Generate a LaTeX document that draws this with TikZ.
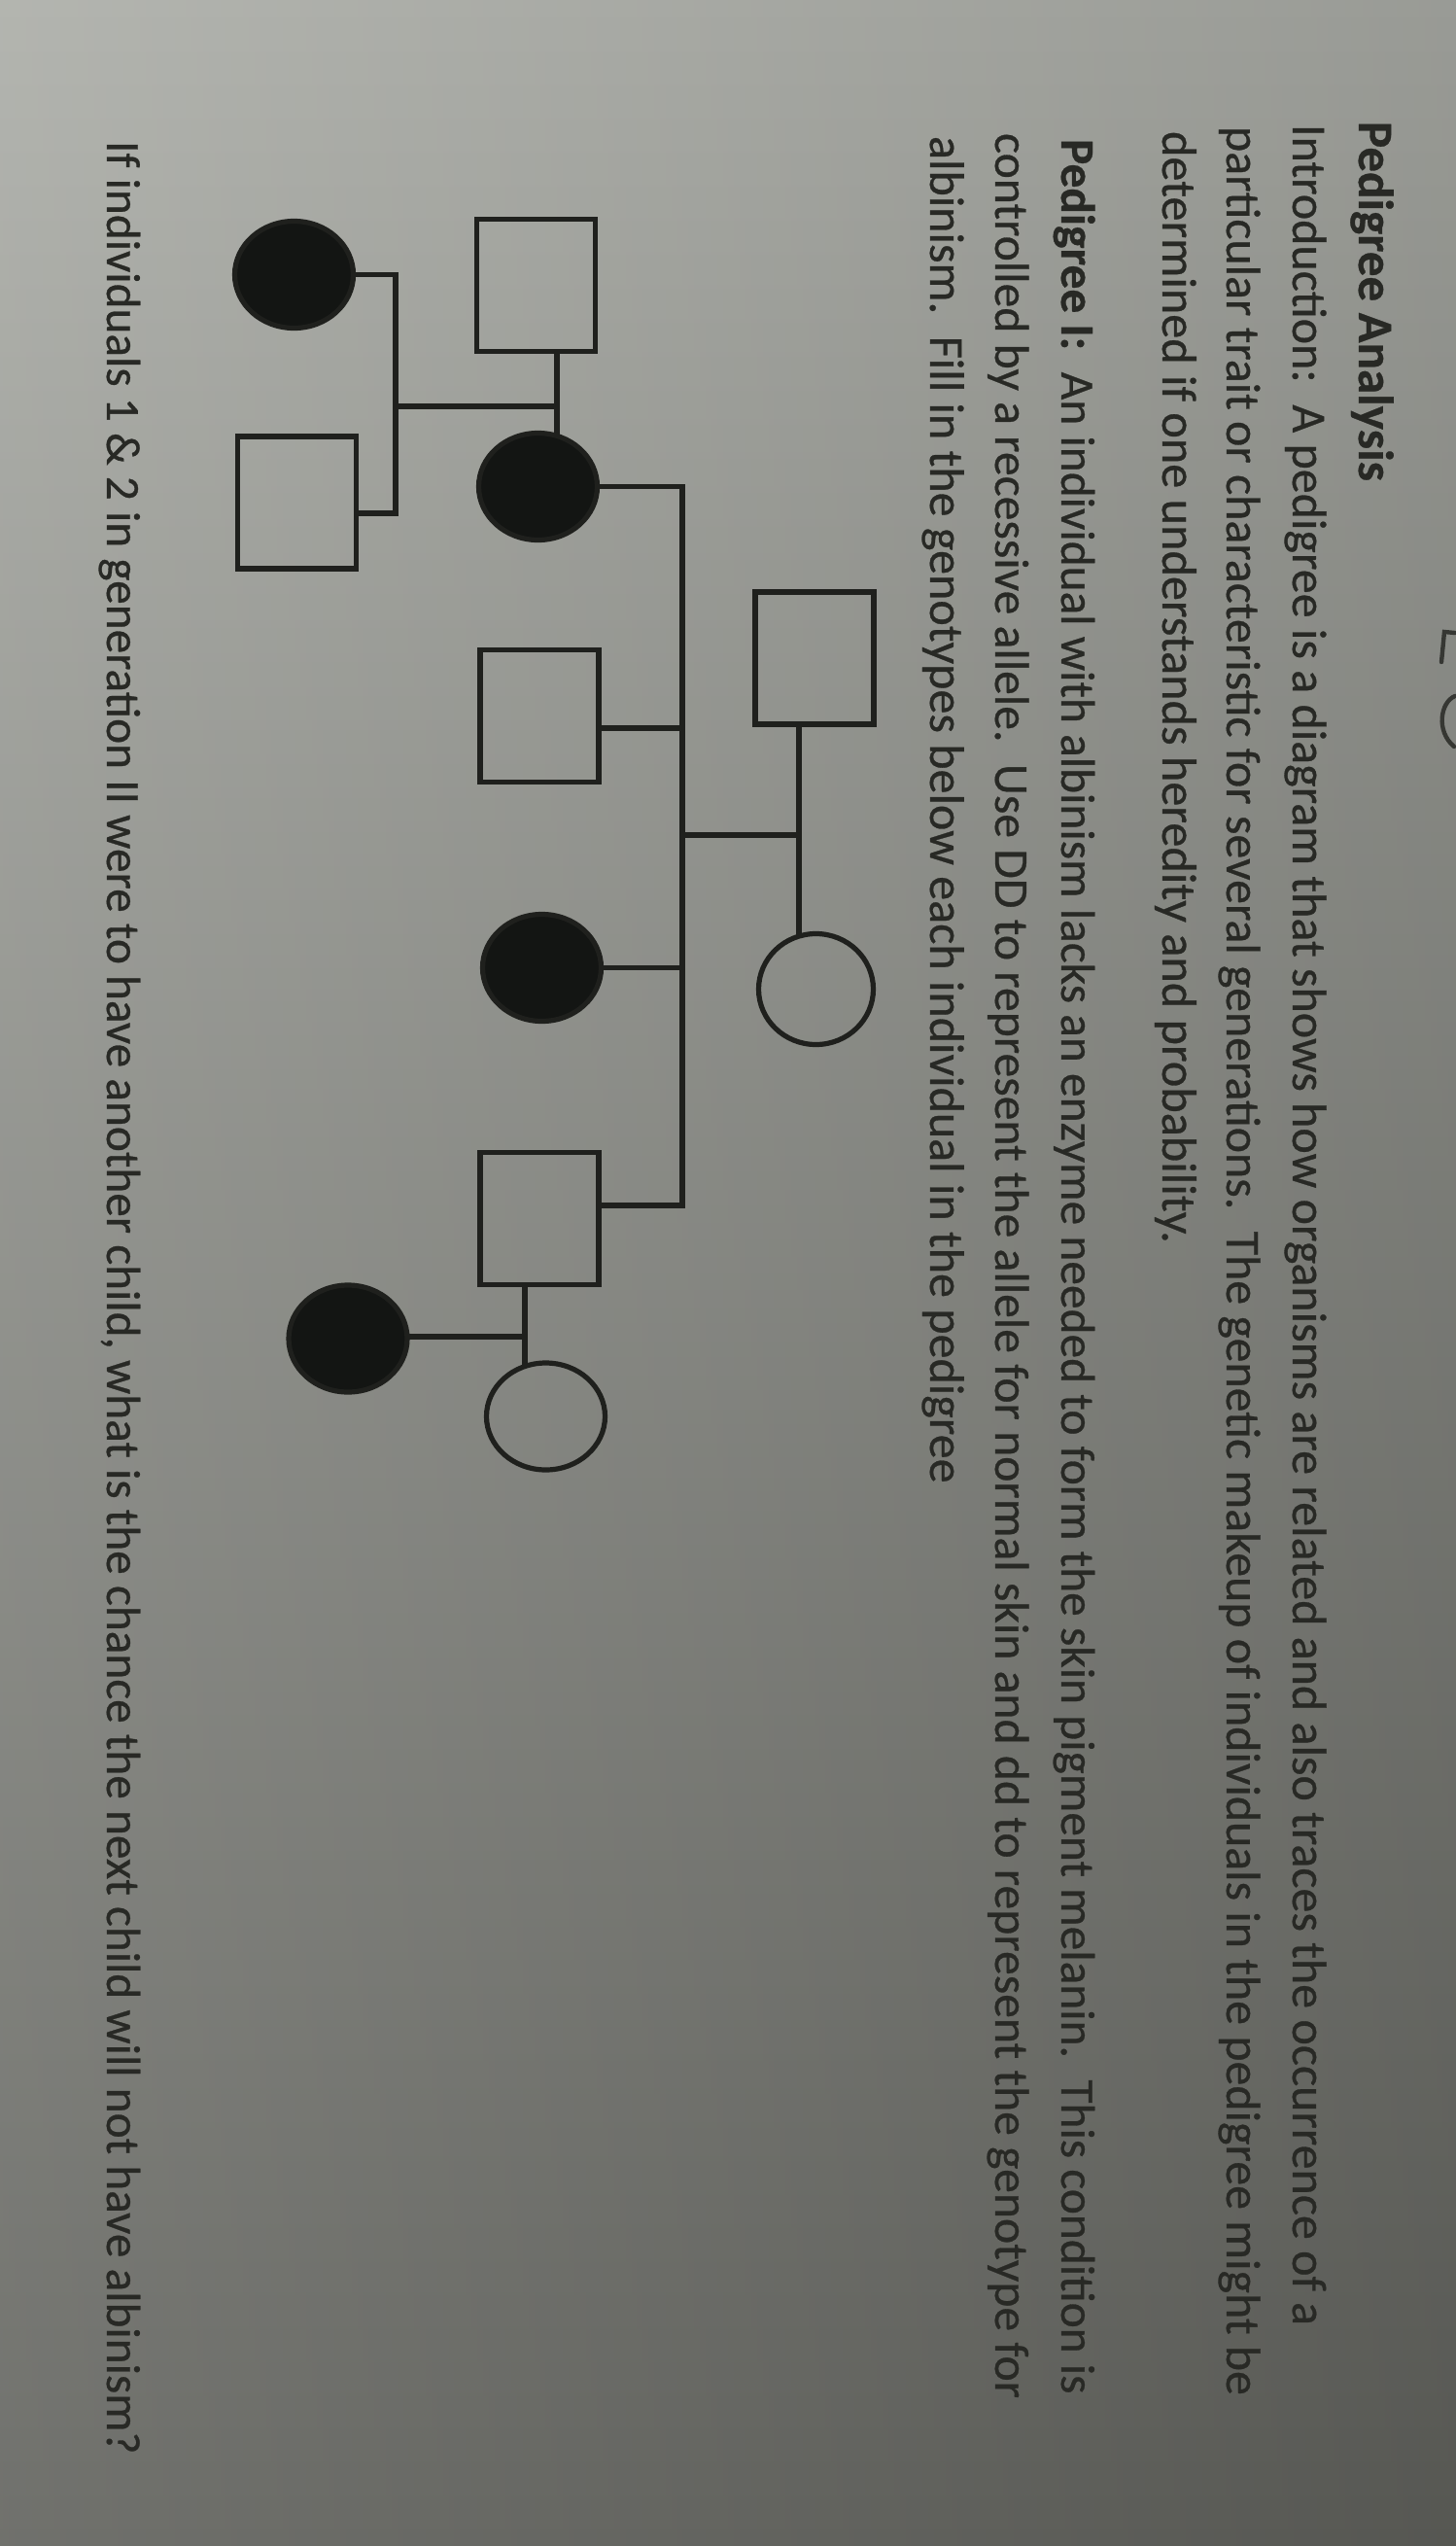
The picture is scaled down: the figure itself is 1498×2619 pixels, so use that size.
\documentclass[tikz,border=0pt]{standalone}
\usepackage{fontspec}
\setmainfont{Carlito}[FakeBold=0.6]
\usetikzlibrary{shapes.geometric}
\definecolor{bgtop}{HTML}{ABADA7}
\definecolor{bgbot}{HTML}{60615C}
\definecolor{ink}{HTML}{282925}
\definecolor{lineink}{HTML}{1F201D}
\definecolor{fillink}{HTML}{131513}
\tikzset{
  txt/.style={rotate=-90, anchor=base west, inner sep=0pt, outer sep=0pt, text=ink,
    font=\fontsize{24}{29}\selectfont},
  male/.style={draw=lineink, line width=2.6pt, rectangle, minimum width=61pt,
    minimum height=68pt, inner sep=0pt, outer sep=0pt},
  female/.style={draw=lineink, line width=2.6pt, ellipse, minimum width=61pt,
    minimum height=55pt, inner sep=0pt, outer sep=0pt},
  affected/.style={fill=fillink},
  link/.style={draw=lineink, line width=2.6pt, line join=miter},
  edgemark/.style={draw=ink, line width=2.2pt, line cap=round, opacity=0.85},
}
\newcommand{\fitline}[2]{\resizebox{#1}{!}{#2}}
\begin{document}
\begin{tikzpicture}[x=0.5pt,y=-0.5pt]
\useasboundingbox (0,0) rectangle (1498,2619);
% photo background
\shade[top color=bgtop, bottom color=bgbot] (0,0) rectangle (1498,2619);
\shade[left color=white, right color=black, opacity=0.10] (0,0) rectangle (1498,2619);

% text lines (page rotated)
\node[txt] (title) at (1398,125) {\fitline{185pt}{\textbf{Pedigree Analysis}}};
\node[txt] (l1) at (1330,128) {\fitline{1132pt}{Introduction:\ \ A pedigree is a diagram that shows how organisms are related and also traces the occurrence of a}};
\node[txt] (l2) at (1262,130) {\fitline{1167pt}{particular trait or characteristic for several generations.\ \ The genetic makeup of individuals in the pedigree might be}};
\node[txt] (l3) at (1196,135) {\fitline{572pt}{determined if one understands heredity and probability.}};
\node[txt] (p1) at (1092,143) {\fitline{1160pt}{\textbf{Pedigree I:}\ \ An individual with albinism lacks an enzyme needed to form the skin pigment melanin.\ \ This condition is}};
\node[txt] (p2) at (1024,137) {\fitline{1165pt}{controlled by a recessive allele.\ \ Use DD to represent the allele for normal skin and dd to represent the genotype for}};
\node[txt] (p3) at (957,140) {\fitline{693pt}{albinism.\ \ Fill in the genotypes below each individual in the pedigree}};
\node[txt] (q) at (110,145) {\fitline{1190pt}{If individuals 1 \& 2 in generation II were to have another child, what is the chance the next child will not have albinism?}};

% edge marks
\draw[edgemark] (1497,651) -- (1486,650) -- (1483,681);
\draw[edgemark] (1497,716) .. controls (1482,722) and (1477,752) .. (1496,768);

% Generation I
\node[male] (g1m) at (838,677) {};
\node[female, minimum width=59pt, minimum height=57pt] (g1f) at (839.5,1017.5) {};
% Generation II
\node[female, affected] (c21) at (553.5,500.5) {};
\node[male] (p21) at (551.5,293.5) {};
\node[male] (s22) at (555,736.5) {};
\node[female, affected] (c23) at (557.5,995.5) {};
\node[male] (s24) at (555,1253.5) {};
\node[female] (c24) at (561.5,1457) {};
% Generation III
\node[female, affected] (c31) at (302.5,282.5) {};
\node[male] (s31) at (305.5,517) {};
\node[female, affected] (c32) at (358,1377) {};

% connectors
\coordinate (m1) at (822,859);
\coordinate (s1b) at (702,1240);
\coordinate (j22) at (702,749);
\draw[link] (g1m.south -| m1) -- ([yshift=-1.5pt]g1f.north -| m1);
\draw[link] (m1) -- (m1 -| s1b);
\draw[link] (c21.east) -- (c21.east -| s1b) -- (s1b) -- (s1b -| s24.east);
\draw[link] (j22 -| s22.east) -- (j22);
\draw[link] (c23.east) -- (c23.east -| s1b);

\coordinate (m2) at (573,418);
\coordinate (s3b) at (407,528);
\draw[link] (p21.south -| m2) -- ([yshift=-1.5pt]c21.north -| m2);
\draw[link] (m2) -- (m2 -| s3b);
\draw[link] (c31.east) -- (c31.east -| s3b) -- (s3b) -- (s3b -| s31.east);

\coordinate (m3) at (540,1375);
\draw[link] (s24.south -| m3) -- ([yshift=-1.5pt]c24.north -| m3);
\draw[link] (m3) -- (m3 -| c32.east);
\end{tikzpicture}
\end{document}
